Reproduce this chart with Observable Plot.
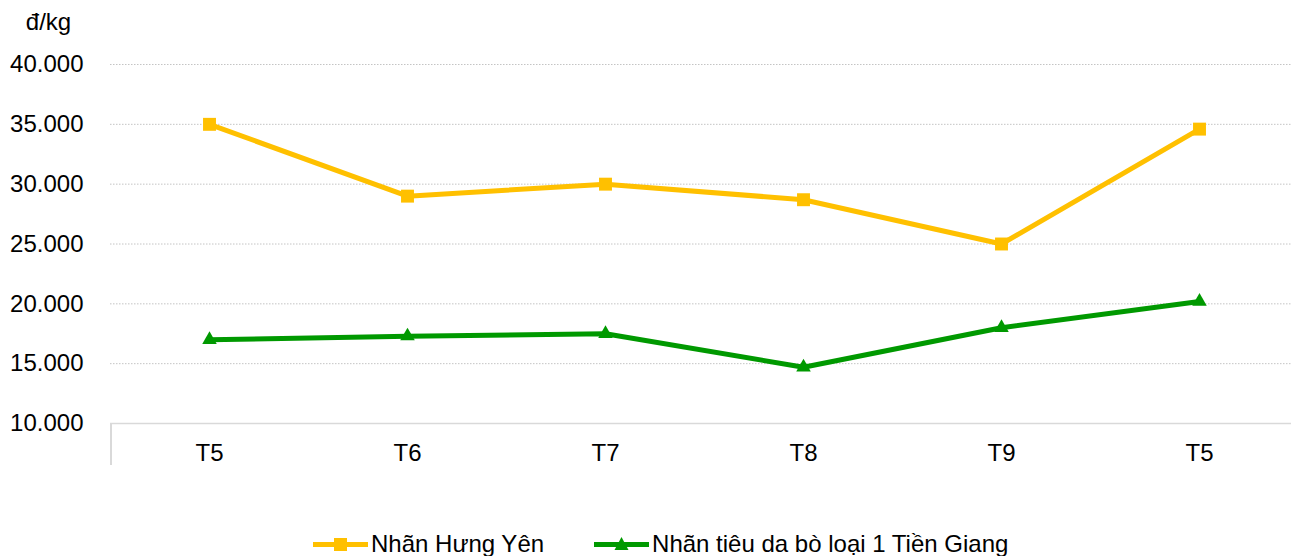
<!DOCTYPE html>
<html>
<head>
<meta charset="utf-8">
<script src="https://cdn.jsdelivr.net/npm/d3@7"></script>
<script src="https://cdn.jsdelivr.net/npm/@observablehq/plot@0.6"></script>
<style>
  html, body { margin: 0; padding: 0; background: #fff; overflow: hidden; }
  body { width: 1291px; height: 556px; position: relative; font-family: "Liberation Sans", Arial, sans-serif; }
  #chart { position: absolute; left: 0; top: 0; }
  #vline { position: absolute; left: 110px; top: 423px; width: 1.5px; height: 42px; background: #d9d9d9; }
  #legend { position: absolute; left: 313px; top: 530px; display: flex; align-items: center; gap: 50px; font-size: 24px; color: #000; white-space: nowrap; }
  .item { display: flex; align-items: center; gap: 3px; }
</style>
</head>
<body>
<div id="chart"></div>
<div id="vline"></div>
<div id="legend"></div>
<script>
const months = ["T5", "T6", "T7", "T8", "T9", "T5"];
const nhanHungYen = [35000, 29000, 30000, 28700, 25000, 34600];
const nhanTienGiang = [17000, 17300, 17500, 14700, 18000, 20200];
const yTicks = [10000, 15000, 20000, 25000, 30000, 35000, 40000];
const seriesNames = ["Nhãn Hưng Yên", "Nhãn tiêu da bò loại 1 Tiền Giang"];
const seriesColors = ["#FFC000", "#009900"];
const unitLabel = "đ/kg";

const fmt = d3.formatLocale({decimal: ",", thousands: ".", grouping: [3], currency: ["", ""]}).format(",");

const rowsA = months.map((m, i) => ({i, v: nhanHungYen[i]}));
const rowsB = months.map((m, i) => ({i, v: nhanTienGiang[i]}));

const chart = Plot.plot({
  width: 1291,
  height: 525,
  marginLeft: 110,
  marginRight: -7,
  marginTop: 64,
  marginBottom: 102,
  style: {fontFamily: "'Liberation Sans', Arial, sans-serif", color: "#000", background: "#fff"},
  x: {type: "point", domain: d3.range(months.length), padding: 0.5},
  y: {domain: [10000, 40000]},
  marks: [
    Plot.ruleY(yTicks.slice(1), {stroke: "#c4c4c4", strokeDasharray: "1.5,1.5", strokeWidth: 1}),
    Plot.ruleY([10000], {stroke: "#d9d9d9", strokeWidth: 1.5}),
    Plot.axisY(yTicks, {tickSize: 0, tickPadding: 27, tickFormat: fmt, fontSize: 24, label: null}),
    Plot.axisX({tickSize: 0, tickPadding: 20, tickFormat: i => months[i], fontSize: 24, label: null}),
    Plot.line(rowsA, {x: "i", y: "v", stroke: seriesColors[0], strokeWidth: 5}),
    Plot.line(rowsB, {x: "i", y: "v", stroke: seriesColors[1], strokeWidth: 5}),
    Plot.dot(rowsA, {x: "i", y: "v", symbol: "square", r: 7.3, fill: seriesColors[0]}),
    Plot.dot(rowsB, {x: "i", y: "v", symbol: "triangle", r: 5.4, fill: seriesColors[1]}),
    Plot.text([unitLabel], {frameAnchor: "top-left", dx: -62, dy: -42, textAnchor: "middle", lineAnchor: "middle", fontSize: 24, fill: "#000"})
  ]
});
document.getElementById("chart").appendChild(chart);

const legend = document.getElementById("legend");
seriesNames.forEach((name, k) => {
  const item = document.createElement("div");
  item.className = "item";
  const marker = k === 0
    ? `<rect x="21" y="5" width="13" height="13" fill="${seriesColors[k]}"/>`
    : `<path d="M27.5,4 L34.5,17 L20.5,17 Z" fill="${seriesColors[k]}"/>`;
  item.innerHTML = `<svg width="55" height="22" style="display:block"><line x1="0" x2="55" y1="11.5" y2="11.5" stroke="${seriesColors[k]}" stroke-width="5" stroke-linecap="round"/>${marker}</svg><span>${name}</span>`;
  legend.appendChild(item);
});
</script>
</body>
</html>
